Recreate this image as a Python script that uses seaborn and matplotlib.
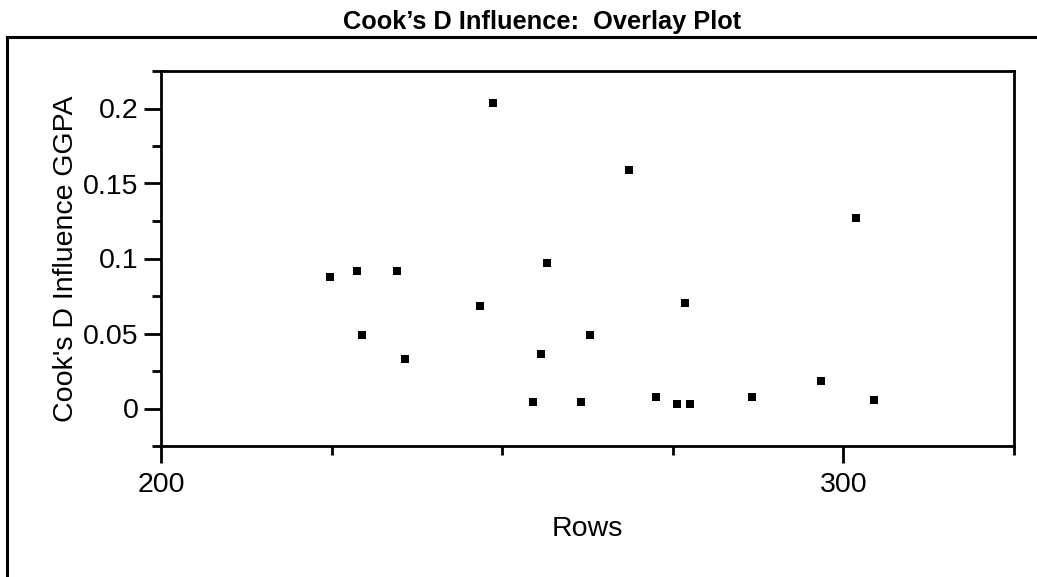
import matplotlib
matplotlib.use("Agg")
import matplotlib.pyplot as plt
from matplotlib.ticker import FixedLocator, MultipleLocator, FuncFormatter
from matplotlib.lines import Line2D
import seaborn as sns
import pandas as pd

# ---- data ----
rows = [224.8, 228.7, 229.5, 234.6, 235.8, 246.7, 248.7, 254.5, 255.7, 256.5,
        261.6, 262.8, 268.6, 272.5, 275.6, 276.8, 277.5, 286.6, 296.7, 301.8, 304.5]
cooks_d = [0.088, 0.0916, 0.0488, 0.0916, 0.0328, 0.0684, 0.204, 0.0042, 0.0363, 0.097,
           0.0042, 0.0488, 0.159, 0.0078, 0.0027, 0.0702, 0.0027, 0.008, 0.0185, 0.1273, 0.006]
x_major = [200, 300]
x_minor = [225, 250, 275, 325]
title = "Cook\u2019s D Influence:  Overlay Plot"
x_label = "Rows"
y_label = "Cook's D Influence GGPA"

df = pd.DataFrame({"Rows": rows, "CooksD": cooks_d})

sns.set_style("ticks")
plt.rcParams["font.family"] = ["Liberation Sans", "DejaVu Sans"]
plt.rcParams["text.color"] = "black"
plt.rcParams["axes.labelcolor"] = "black"
plt.rcParams["xtick.color"] = "black"
plt.rcParams["ytick.color"] = "black"

W, H = 1037, 577
fig = plt.figure(figsize=(W / 100, H / 100), dpi=100)
ax = fig.add_axes([161 / W, 1 - 446 / H, (1014 - 161) / W, (446 - 71) / H])

sns.scatterplot(data=df, x="Rows", y="CooksD", ax=ax, marker="s", s=38,
                color="black", linewidth=0, legend=False)

ax.set_xlim(200, 325)
ax.set_ylim(-0.025, 0.225)
ax.xaxis.set_major_locator(FixedLocator(x_major))
ax.xaxis.set_minor_locator(FixedLocator(x_minor))
ax.yaxis.set_major_locator(MultipleLocator(0.05))
ax.yaxis.set_minor_locator(MultipleLocator(0.025))
ax.yaxis.set_major_formatter(FuncFormatter(lambda v, p: f"{v:g}" if abs(v) > 1e-9 else "0"))
ax.xaxis.set_major_formatter(FuncFormatter(lambda v, p: f"{v:g}"))

for sp in ax.spines.values():
    sp.set_visible(True)
    sp.set_linewidth(2.0)
    sp.set_color("black")

ax.tick_params(axis="both", which="major", length=12.5, width=2.0, color="black",
               labelsize=20.5, labelcolor="black", direction="out")
ax.tick_params(axis="both", which="minor", length=6.5, width=2.0, color="black",
               direction="out")
ax.tick_params(axis="x", which="major", pad=6)
ax.tick_params(axis="y", which="major", pad=3.5)
ax.tick_params(top=False, right=False, which="both")

ax.set_xlabel(x_label, fontsize=20.5, labelpad=13, color="black")
ax.set_ylabel(y_label, fontsize=20.5, labelpad=3, color="black")
ax.grid(False)

fig.text(542 / W, 1 - 29 / H, title, ha="center", va="baseline",
         fontsize=18.3, fontweight="bold", color="black")

fx = 7 / W
fy = 1 - 37 / H
fig.add_artist(Line2D([fx, 1.01], [fy, fy], transform=fig.transFigure,
                      color="black", linewidth=2.2, solid_capstyle="projecting"))
fig.add_artist(Line2D([fx, fx], [fy, -0.01], transform=fig.transFigure,
                      color="black", linewidth=2.2, solid_capstyle="projecting"))

fig.savefig("out.png", dpi=100, facecolor="white")
